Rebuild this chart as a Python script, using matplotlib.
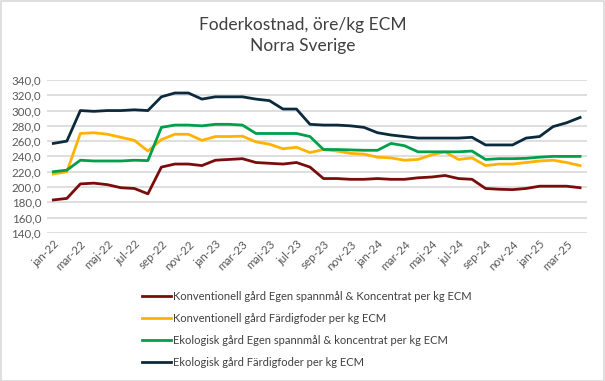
import numpy as np
import matplotlib
matplotlib.use("Agg")
import matplotlib.pyplot as plt
from matplotlib.patches import Rectangle

plt.rcParams['font.family'] = ['Lato', 'DejaVu Sans']

# Månader jan-22 .. apr-25
manader = ["jan", "feb", "mar", "apr", "maj", "jun", "jul", "aug", "sep", "okt", "nov", "dec"]
etiketter = [f"{manader[i % 12]}-{22 + i // 12}" for i in range(40)]

konv_egen = [183, 185, 204, 205, 203, 199, 198, 191, 226, 230, 230, 228,
             235, 236, 237, 232, 231, 230, 232, 226, 211, 211, 210, 210,
             211, 210, 210, 212, 213, 215, 211, 210, 198, 197, 196.5, 198,
             201, 201, 201, 199]
konv_fardig = [217, 220, 270, 271, 269, 265, 261, 247, 262, 269, 269, 261,
               266, 266, 266.5, 259, 256, 250, 252, 245, 249, 247, 244, 243,
               239, 238, 235, 236, 242, 246, 236, 238, 228, 230, 230, 232,
               234, 235, 232, 228]
eko_egen = [220, 222, 235, 234, 234, 234, 235, 234.5, 278, 281, 281, 280,
            282, 282, 281, 270, 270, 270, 270, 266, 249, 249, 248.5, 248,
            248, 257, 254, 246, 246, 246, 246, 247, 236, 237, 237, 237.5,
            239, 240, 240, 240]
eko_fardig = [257, 260, 300, 299, 300, 300, 301, 300, 318, 323, 323, 315,
              318, 318, 318, 315, 313, 302, 302, 282, 281, 281, 280, 278,
              271, 268, 266, 264, 264, 264, 264, 265, 255, 255, 255, 264,
              266, 279, 284, 291]

serier = [
    ("Konventionell gård Egen spannmål & Koncentrat per kg ECM", konv_egen, "#7a0c0c"),
    ("Konventionell gård Färdigfoder per kg ECM", konv_fardig, "#ffb300"),
    ("Ekologisk gård Egen spannmål & koncentrat per kg ECM", eko_egen, "#00a04b"),
    ("Ekologisk gård Färdigfoder per kg ECM", eko_fardig, "#0b2a3e"),
]

fig = plt.figure(figsize=(6.05, 3.81), dpi=100)
ax = fig.add_axes([0.077, 0.389, 0.893, 0.401])

x = np.arange(len(etiketter))
for namn, varden, farg in serier:
    ax.plot(x, varden, color=farg, lw=2.0, label=namn, solid_joinstyle='round')

ax.set_xlim(-0.5, 39.5)
ax.set_ylim(140, 340)
ax.set_yticks(np.arange(140, 341, 20))
ax.set_yticklabels([f"{v:.1f}".replace(".", ",") for v in np.arange(140, 341, 20)])
ax.set_xticks(x[::2])
ax.set_xticklabels(etiketter[::2], rotation=45, ha='right', rotation_mode='anchor')
ax.tick_params(length=0, labelsize=8.3, colors="#595959", pad=4)
ax.grid(axis='y', color="#d9d9d9", lw=1.2)
ax.set_axisbelow(True)
for s in ax.spines.values():
    s.set_visible(False)

fig.text(0.5, 0.907, "Foderkostnad, öre/kg ECM\nNorra Sverige", ha='center', va='center',
         fontsize=12.5, color="#404040", linespacing=1.45)

fig.legend(loc='upper left', bbox_to_anchor=(0.228, 0.247), frameon=False,
           fontsize=8, handlelength=2.6, handletextpad=0.2, labelspacing=0.98,
           labelcolor="#404040", borderaxespad=0)

fig.patches.append(Rectangle((0.001, 0.001), 0.997, 0.997, transform=fig.transFigure,
                             fill=False, edgecolor="#d9d9d9", lw=1.2))

fig.savefig("out.png", dpi=100)
